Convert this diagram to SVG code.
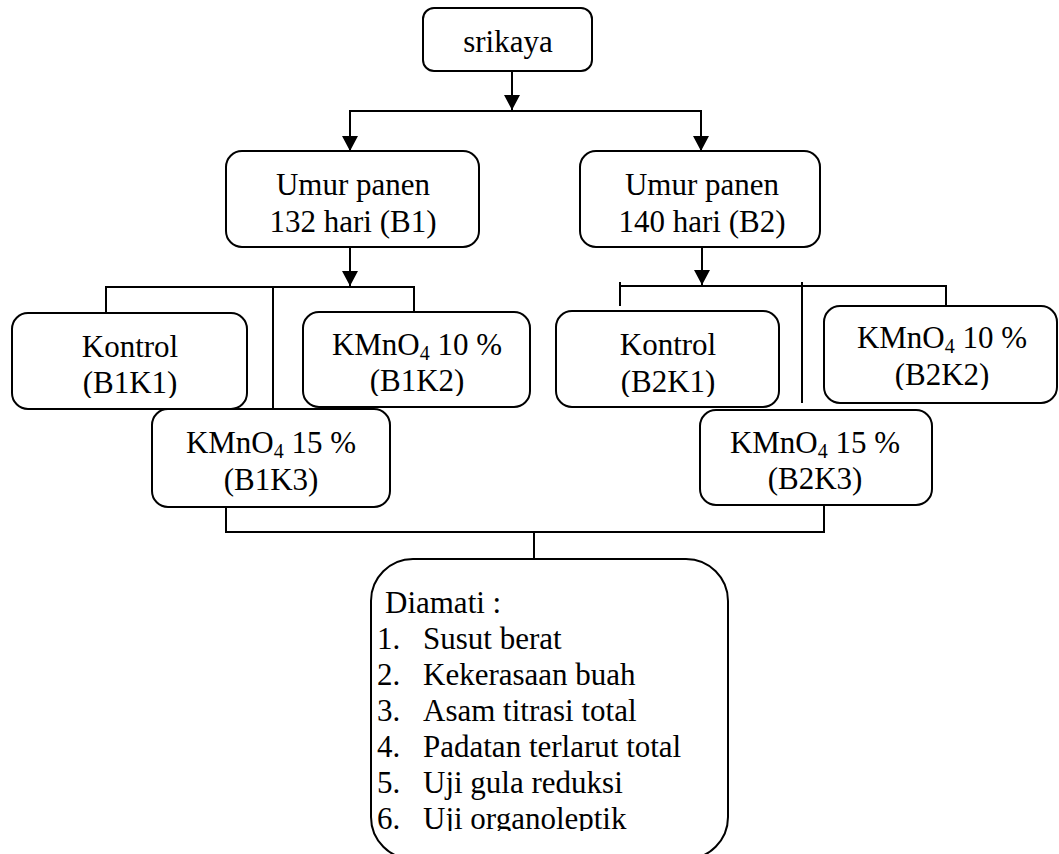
<svg xmlns="http://www.w3.org/2000/svg" width="1059" height="854" viewBox="0 0 1059 854">
<style>
.box{fill:#fff;stroke:#000;stroke-width:2}
.t{font-family:"Liberation Serif","Times New Roman",serif;font-size:31px;fill:#000}
.c{text-anchor:middle}
.ln{fill:none;stroke:#000;stroke-width:2}
</style>
<defs>
<marker id="ah" markerUnits="userSpaceOnUse" markerWidth="15" markerHeight="16" viewBox="0 0 15 16" refX="15" refY="8" orient="auto">
<path d="M0,0 L15,8 L0,16 z" fill="#000"/>
</marker>
<clipPath id="clipList"><rect x="360" y="560" width="380" height="271"/></clipPath>
<clipPath id="cB1K1"><rect x="12" y="313" width="235" height="85"/></clipPath>
<clipPath id="cB1K2"><rect x="303" y="312" width="227" height="84"/></clipPath>
<clipPath id="cB2K1"><rect x="556" y="311" width="223" height="86"/></clipPath>
<clipPath id="cB2K2"><rect x="824" y="306" width="233" height="84"/></clipPath>
</defs>
<rect width="1059" height="854" fill="#fff"/>
<g id="connectors">
<line class="ln" x1="512" y1="71" x2="512" y2="110" marker-end="url(#ah)"/>
<polyline class="ln" points="350,151 350,111 701,111 701,151"/>
<line class="ln" x1="350" y1="111" x2="350" y2="151" marker-end="url(#ah)"/>
<line class="ln" x1="701" y1="111" x2="701" y2="151" marker-end="url(#ah)"/>
<line class="ln" x1="350" y1="247" x2="350" y2="286" marker-end="url(#ah)"/>
<polyline class="ln" points="106,312 106,287 414,287 414,311"/>
<line class="ln" x1="273" y1="287" x2="273" y2="409"/>
<line class="ln" x1="702" y1="247" x2="702" y2="285" marker-end="url(#ah)"/>
<polyline class="ln" points="620,282 620,286 946,286 946,306"/>
<line class="ln" x1="620" y1="282" x2="620" y2="306"/>
<line class="ln" x1="802" y1="282" x2="802" y2="403"/>
<polyline class="ln" points="226,507 226,532 824,532 824,505"/>
<line class="ln" x1="534" y1="532" x2="534" y2="559"/>
</g>
<g id="srikaya">
<rect class="box" x="423" y="8" width="169" height="63" rx="11"/>
<text class="t c" x="508" y="52">srikaya</text>
</g>
<g id="B1">
<rect class="box" x="226" y="151" width="253" height="96" rx="16"/>
<text class="t c" x="353" y="195">Umur panen</text>
<text class="t c" x="353" y="232">132 hari (B1)</text>
</g>
<g id="B2">
<rect class="box" x="580" y="151" width="240" height="96" rx="16"/>
<text class="t c" x="702" y="195">Umur panen</text>
<text class="t c" x="702" y="232">140 hari (B2)</text>
</g>
<g id="B1K1">
<rect class="box" x="12" y="313" width="235" height="96" rx="16"/>
<g clip-path="url(#cB1K1)">
<text class="t c" x="130" y="357">Kontrol</text>
<text class="t c" x="130" y="393">(B1K1)</text>
</g>
</g>
<g id="B1K2">
<rect class="box" x="303" y="312" width="227" height="95" rx="16"/>
<g clip-path="url(#cB1K2)">
<text class="t c" x="417" y="355">KMnO<tspan font-size="20" dy="5">4</tspan><tspan dy="-5"> 10 %</tspan></text>
<text class="t c" x="417" y="391">(B1K2)</text>
</g>
</g>
<g id="B1K3">
<rect class="box" x="152" y="409" width="238" height="98" rx="16"/>
<text class="t c" x="271" y="453">KMnO<tspan font-size="20" dy="5">4</tspan><tspan dy="-5"> 15 %</tspan></text>
<text class="t c" x="271" y="490">(B1K3)</text>
</g>
<g id="B2K1">
<rect class="box" x="556" y="311" width="223" height="96" rx="16"/>
<g clip-path="url(#cB2K1)">
<text class="t c" x="668" y="355">Kontrol</text>
<text class="t c" x="668" y="392">(B2K1)</text>
</g>
</g>
<g id="B2K2">
<rect class="box" x="824" y="306" width="233" height="97" rx="16"/>
<g clip-path="url(#cB2K2)">
<text class="t c" x="942" y="348">KMnO<tspan font-size="20" dy="5">4</tspan><tspan dy="-5"> 10 %</tspan></text>
<text class="t c" x="942" y="385">(B2K2)</text>
</g>
</g>
<g id="B2K3">
<rect class="box" x="700" y="410" width="232" height="95" rx="16"/>
<text class="t c" x="815" y="453">KMnO<tspan font-size="20" dy="5">4</tspan><tspan dy="-5"> 15 %</tspan></text>
<text class="t c" x="815" y="489">(B2K3)</text>
</g>
<g id="diamati">
<rect class="box" x="371" y="559" width="357" height="300" rx="42"/>
<g clip-path="url(#clipList)">
<text class="t" x="385" y="613">Diamati :</text>
<text class="t" x="377" y="649">1.</text><text class="t" x="423" y="649">Susut berat</text>
<text class="t" x="377" y="685">2.</text><text class="t" x="423" y="685">Kekerasaan buah</text>
<text class="t" x="377" y="721">3.</text><text class="t" x="423" y="721">Asam titrasi total</text>
<text class="t" x="377" y="757">4.</text><text class="t" x="423" y="757">Padatan terlarut total</text>
<text class="t" x="377" y="793">5.</text><text class="t" x="423" y="793">Uji gula reduksi</text>
<text class="t" x="377" y="829">6.</text><text class="t" x="423" y="829">Uji organoleptik</text>
</g>
</g>
</svg>
